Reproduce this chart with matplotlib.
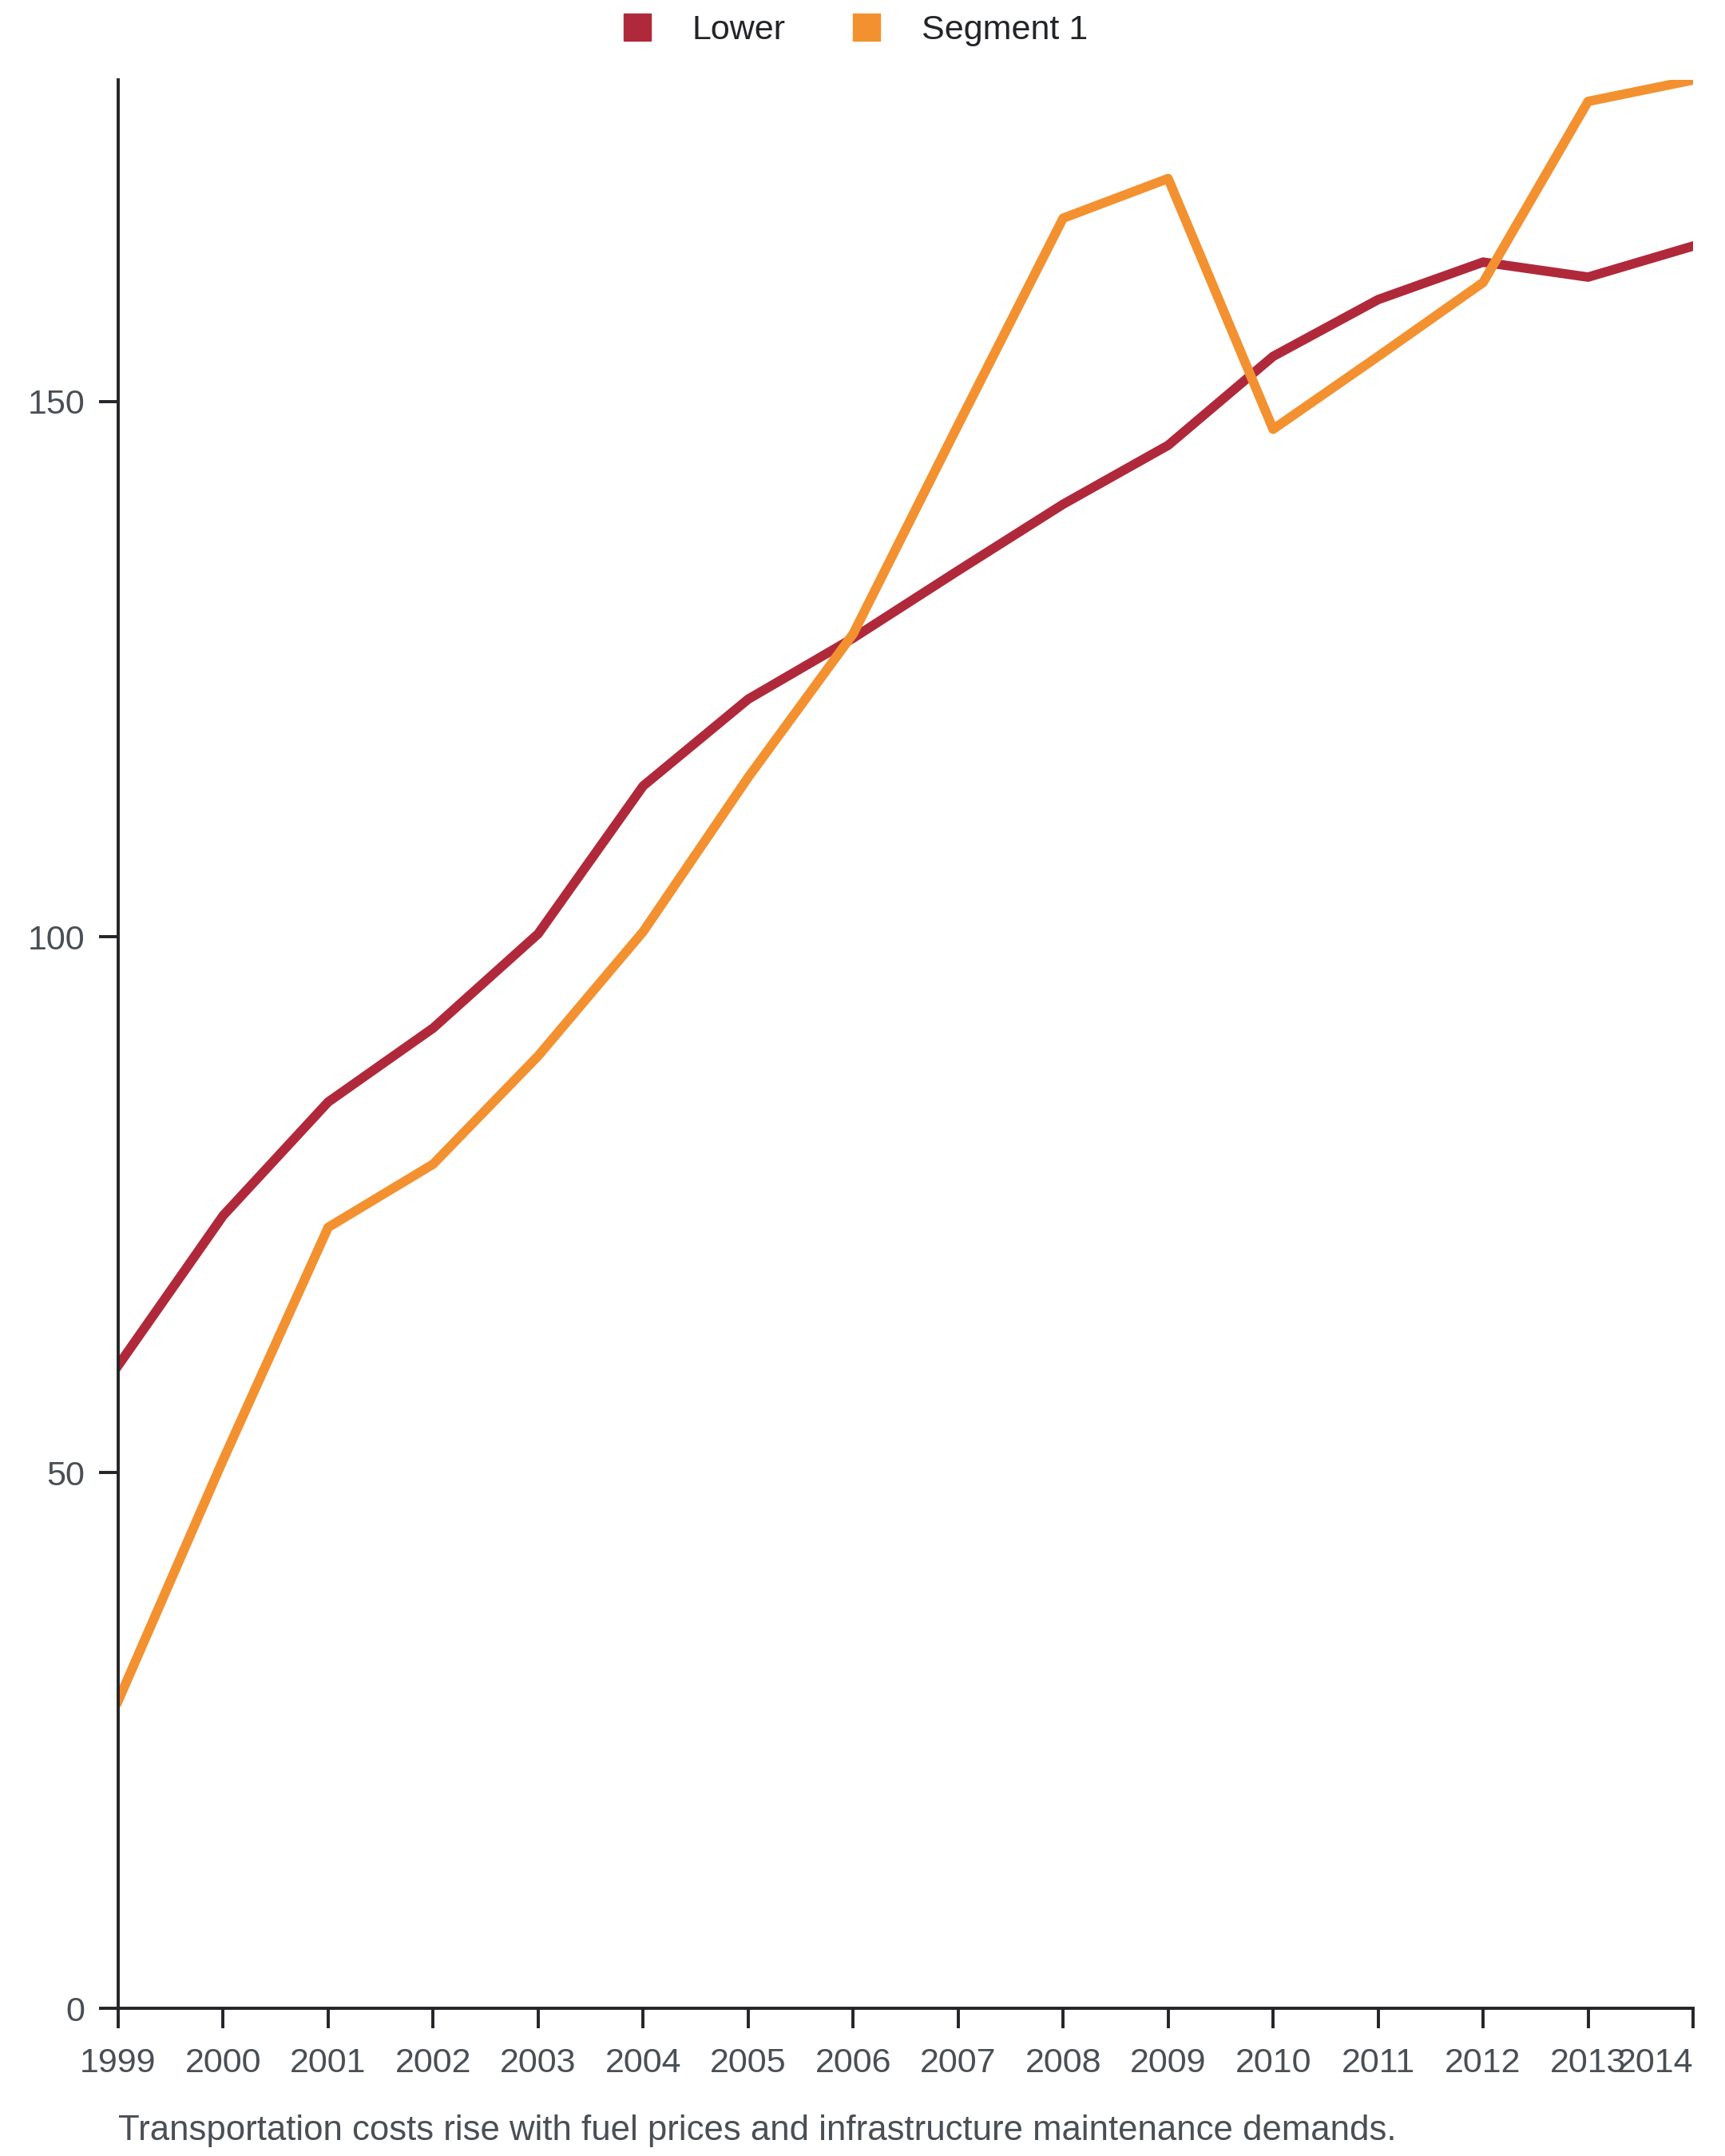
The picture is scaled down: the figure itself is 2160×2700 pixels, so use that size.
import matplotlib
matplotlib.use("Agg")
import matplotlib.pyplot as plt
from matplotlib.lines import Line2D

years = list(range(1999, 2015))
lower = [60, 74, 84.6, 91.5, 100.3, 114.1, 122.2, 127.9, 134.2, 140.4, 145.9, 154.2, 159.5, 163.0, 161.6, 164.5]
segment1 = [28.7, 51.2, 72.9, 78.8, 88.9, 100.5, 114.9, 128.3, 147.8, 167.1, 170.8, 147.4, 154.2, 161.1, 178.0, 180.0]
yticks = [0, 50, 100, 150]
caption = "Transportation costs rise with fuel prices and infrastructure maintenance demands."

c_lower = "#B0293A"
c_seg = "#F39130"
txt = "#4A4F55"
dark = "#222428"

plt.rcParams['font.family'] = ['Liberation Sans', 'DejaVu Sans']

fig = plt.figure(figsize=(21.6, 27), dpi=100)
ax = fig.add_axes([0.0685, 0.0685, 0.913, 0.8944])

ax.plot(years, lower, color=c_lower, lw=8.5)
ax.plot(years, segment1, color=c_seg, lw=8.5)

ax.set_xlim(years[0], years[-1])
ax.set_ylim(0, max(segment1))
ax.set_xticks(years)
ax.set_xticklabels([str(y) for y in years])
ax.get_xticklabels()[-1].set_horizontalalignment('right')
ax.set_yticks(yticks)

for s in ['top', 'right']:
    ax.spines[s].set_visible(False)
for s in ['left', 'bottom']:
    ax.spines[s].set_linewidth(2.8)
    ax.spines[s].set_color(dark)

ax.tick_params(axis='x', length=18, width=2.8, pad=17, labelsize=31, labelcolor=txt, color=dark)
ax.tick_params(axis='y', length=17, width=2.8, pad=13, labelsize=31, labelcolor=txt, color=dark)

handles = [Line2D([], [], ls='none', marker='s', markersize=24, color=c_lower),
           Line2D([], [], ls='none', marker='s', markersize=24, color=c_seg)]
fig.legend(handles, ['Lower', 'Segment 1'], loc='center', bbox_to_anchor=(0.495, 0.986),
           ncol=2, frameon=False, fontsize=31, handlelength=1.0, handletextpad=1.1,
           columnspacing=1.85, labelcolor=dark)

fig.text(0.0685, 0.0115, caption, fontsize=31.5, color=txt, ha='left', va='center')

fig.savefig("out.png", dpi=100)
